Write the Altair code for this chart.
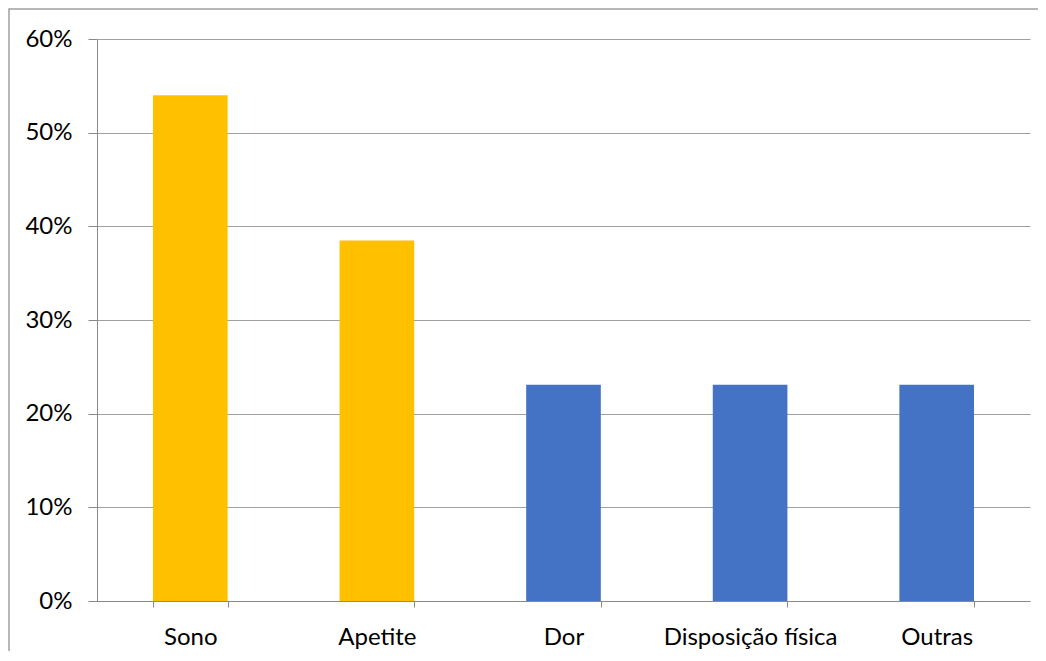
import altair as alt
import pandas as pd

categories = ["Sono", "Apetite", "Dor", "Disposição física", "Outras"]
values = [0.54, 0.385, 0.231, 0.231, 0.231]
colors = ["#FFC000", "#FFC000", "#4472C4", "#4472C4", "#4472C4"]
y_ticks = [0, 0.1, 0.2, 0.3, 0.4, 0.5, 0.6]

df = pd.DataFrame({"cat": categories, "val": values, "color": colors})

FONT = "Lato"

bars = alt.Chart(df).mark_bar().encode(
    x=alt.X("cat:N", sort=categories, title=None,
            scale=alt.Scale(paddingInner=0.6, paddingOuter=0.3),
            axis=alt.Axis(labelAngle=0, tickBand="extent", tickSize=6,
                          labelPadding=18, labelFontSize=24, labelFont=FONT,
                          labelColor="#000000", domainColor="#898989",
                          tickColor="#898989", grid=False)),
    y=alt.Y("val:Q", title=None,
            scale=alt.Scale(domain=[0, 0.6], nice=False),
            axis=alt.Axis(values=y_ticks, format=".0%", tickSize=9,
                          labelPadding=16, labelFontSize=24, labelFont=FONT,
                          labelColor="#000000", domainColor="#898989",
                          tickColor="#898989", gridColor="#a0a0a0")),
    color=alt.Color("color:N", scale=None, legend=None),
)

frame = alt.Chart(alt.Data(values=[{}])).mark_rect(
    fill=None, stroke="#a0a0a0", strokeWidth=1.5
).encode(
    x=alt.value(-88), y=alt.value(-30), x2=alt.value(1200), y2=alt.value(800)
)

chart = alt.layer(frame, bars).properties(
    width=933, height=562,
    autosize=alt.AutoSizeParams(type="none"),
    padding={"left": 89, "top": 31, "right": 8, "bottom": 50},
).configure_view(stroke=None)

chart.save("out.html", embed_options={"renderer": "svg", "actions": False})
